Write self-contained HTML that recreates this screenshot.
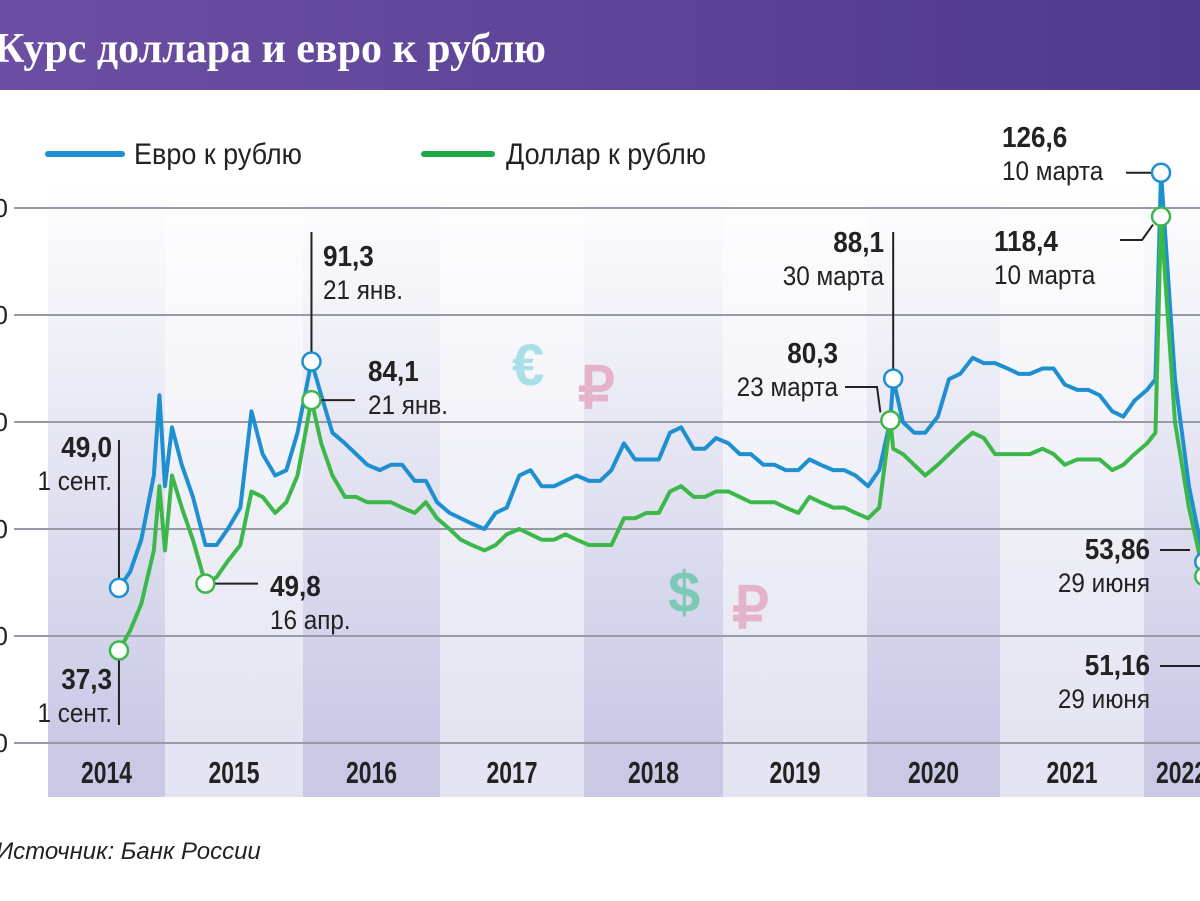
<!DOCTYPE html>
<html><head><meta charset="utf-8"><style>
body{margin:0;width:1200px;height:901px;overflow:hidden;background:#fff;font-family:"Liberation Sans",sans-serif}
svg{display:block}
</style></head><body>
<svg id="c" width="1200" height="901" viewBox="0 0 1200 901">
<defs>
<linearGradient id="hdr" x1="0" x2="1" y1="0" y2="0"><stop offset="0" stop-color="#6c4fa3"/><stop offset="1" stop-color="#4f3a8c"/></linearGradient>
<linearGradient id="bandD" x1="0" x2="0" y1="0" y2="1"><stop offset="0" stop-color="#fff"/><stop offset="1" stop-color="#c9c9e6"/></linearGradient>
<linearGradient id="bandL" x1="0" x2="0" y1="0" y2="1"><stop offset="0" stop-color="#fff"/><stop offset="1" stop-color="#e4e4f2"/></linearGradient>
</defs>
<rect x="0" y="0" width="1200" height="90" fill="url(#hdr)"/>
<text x="-6" y="62" font-family="Liberation Serif,serif" font-size="42" font-weight="bold" fill="#fff">Курс доллара и евро к рублю</text>
<g id="bands"></g>
<g id="grid"></g>
<g>
<line x1="48" y1="154" x2="122" y2="154" stroke="#1e8fd0" stroke-width="6" stroke-linecap="round"/>
<text x="134" y="164" font-size="30" fill="#222" transform="translate(134 0) scale(0.9 1) translate(-134 0)">Евро к рублю</text>
<line x1="424" y1="154" x2="492" y2="154" stroke="#1fa84a" stroke-width="6" stroke-linecap="round"/>
<text x="506" y="164" font-size="30" fill="#222" transform="translate(506 0) scale(0.9 1) translate(-506 0)">Доллар к рублю</text>
</g>
<g font-size="58" font-weight="bold">
<text x="512" y="385" fill="#a8e0ea">€</text>
<text x="578" y="408" fill="#e4b3c9">₽</text>
<text x="668" y="612" fill="#7cc9b5">$</text>
<text x="732" y="628" fill="#e4b3c9">₽</text>
</g>
<g id="series"></g>
<g id="ann" font-size="27" fill="#222"></g>
<text x="-4" y="859" font-size="24" font-style="italic" fill="#222">Источник: Банк России</text>
</svg>
<script>
const yearLabels=["2014","2015","2016","2017","2018","2019","2020","2021","2022"];
const yTicks=[120,100,80,60,40,20];
const eurDates=[2014.67,2014.75,2014.83,2014.92,2014.96,2015.0,2015.05,2015.12,2015.2,2015.29,2015.37,2015.45,2015.54,2015.62,2015.7,2015.79,2015.87,2015.95,2016.05,2016.12,2016.2,2016.29,2016.37,2016.45,2016.54,2016.62,2016.7,2016.79,2016.87,2016.95,2017.04,2017.12,2017.2,2017.29,2017.37,2017.45,2017.54,2017.62,2017.7,2017.79,2017.87,2017.95,2018.04,2018.12,2018.2,2018.29,2018.37,2018.45,2018.54,2018.62,2018.7,2018.79,2018.87,2018.95,2019.04,2019.12,2019.2,2019.29,2019.37,2019.45,2019.54,2019.62,2019.7,2019.79,2019.87,2019.95,2020.04,2020.12,2020.2,2020.22,2020.29,2020.37,2020.45,2020.54,2020.62,2020.7,2020.79,2020.87,2020.95,2021.04,2021.12,2021.2,2021.29,2021.37,2021.45,2021.54,2021.62,2021.7,2021.79,2021.87,2021.95,2022.04,2022.1,2022.14,2022.24,2022.34,2022.45];
const eurValues=[49,52,58,70,85,68,79,72,66,57,57,60,64,82,74,70,71,78,91.3,85,78,76,74,72,71,72,72,69,69,65,63,62,61,60,63,64,70,71,68,68,69,70,69,69,71,76,73,73,73,78,79,75,75,77,76,74,74,72,72,71,71,73,72,71,71,70,68,71,80.3,88.1,80,78,78,81,88,89,92,91,91,90,89,89,90,90,87,86,86,85,82,81,84,86,88,126.6,88,68,53.86];
const usdValues=[37.3,41,46,56,68,56,70,64,58,49.8,51,54,57,67,66,63,65,70,84.1,76,70,66,66,65,65,65,64,63,65,62,60,58,57,56,57,59,60,59,58,58,59,58,57,57,57,62,62,63,63,67,68,66,66,67,67,66,65,65,65,64,63,66,65,64,64,63,62,64,80.3,75,74,72,70,72,74,76,78,77,74,74,74,74,75,74,72,73,73,73,71,72,74,76,78,118.4,80,64,51.16];
const NS="http://www.w3.org/2000/svg";
function X(t){return 165+(t-2015)*139.5;}
function Y(v){return 208+(120-v)*5.35;}
function mk(tag,attrs,parent){const e=document.createElementNS(NS,tag);for(const k in attrs)e.setAttribute(k,attrs[k]);parent.appendChild(e);return e;}
const bands=document.getElementById('bands');
const bx=[48,165,303,440,584,723,867,1000,1144,1200];
yearLabels.forEach((y,i)=>{
  const dark=i%2===0;
  const r=mk('rect',{x:bx[i],y:180,width:bx[i+1]-bx[i],height:562,fill:dark?'url(#bandD)':'url(#bandL)'},bands);
  
  
  const r2=mk('rect',{x:bx[i],y:742,width:bx[i+1]-bx[i],height:55,fill:dark?'#c9c9e6':'#e4e4f2'},bands);
  
  
  const cx=i===8?1156:(bx[i]+bx[i+1])/2;
  const t=mk('text',{x:cx,y:783,'font-size':31,'font-weight':'bold',fill:'#222','text-anchor':i===8?'start':'middle',transform:`translate(${cx} 0) scale(0.74 1) translate(${-cx} 0)`},bands);
  t.textContent=y;
  
  
});
const grid=document.getElementById('grid');
yTicks.forEach(v=>{
  const l=mk('line',{x1:14,x2:1200,y1:Y(v),y2:Y(v),stroke:'#9a9aa6','stroke-width':2},grid);
  
  
  const t=mk('text',{x:8,y:Y(v)+9,'font-size':26,fill:'#222','text-anchor':'end'},grid);
  t.textContent=v;
  
  
});
const ser=document.getElementById('series');
function line(vals,color,name){
  const p=mk('polyline',{points:vals.map((v,i)=>X(eurDates[i])+','+Y(v)).join(' '),fill:'none',stroke:color,'stroke-width':4,'stroke-linejoin':'round'},ser);
  
  
}
line(eurValues,'#1e8fd0','euro-line');
line(usdValues,'#3cb84a','dollar-line');
const ann=document.getElementById('ann');
function marker(i,vals,color,name){
  const c=mk('circle',{cx:X(eurDates[i]),cy:Y(vals[i]),r:9,fill:'#fff',stroke:color,'stroke-width':2.5},ann);
  
  
  return [X(eurDates[i]),Y(vals[i])];
}
function label(x,y,a,b,anchor,name){
  const sx=`translate(${x} 0) scale(0.9 1) translate(${-x} 0)`;
  const t1=mk('text',{x:x,y:y,'font-weight':'bold','font-size':29,'text-anchor':anchor,transform:sx},ann);t1.textContent=a;
  
  
  const t2=mk('text',{x:x,y:y+33,'text-anchor':anchor,transform:sx},ann);t2.textContent=b;
  
  
}
function lead(pts,name){
  const p=mk('polyline',{points:pts.join(' '),fill:'none',stroke:'#222','stroke-width':2},ann);
  
  
}
function imax(a,lo,hi){let b=lo;for(let i=lo;i<=hi;i++)if(a[i]>a[b])b=i;return b;}
function imin(a,lo,hi){let b=lo;for(let i=lo;i<=hi;i++)if(a[i]<a[b])b=i;return b;}
let p;
const last=eurValues.length-1;
const n=eurValues.length;
const iE16=imax(eurValues,10,30), iU16=imax(usdValues,10,30), iU15=imin(usdValues,5,15);
const iE20=imax(eurValues,64,71), iU20=imax(usdValues,64,71);
const iE22=imax(eurValues,85,n-1), iU22=imax(usdValues,85,n-1);
p=marker(0,eurValues,'#1e8fd0','marker-euro-2014');lead([p[0],p[1]-10,p[0],440],'leader-euro-2014');label(112,457,'49,0','1 сент.','end','annot-euro-2014');
p=marker(0,usdValues,'#3cb84a','marker-usd-2014');lead([p[0],p[1]+10,p[0],725],'leader-usd-2014');label(112,689,'37,3','1 сент.','end','annot-usd-2014');
p=marker(iU15,usdValues,'#3cb84a','marker-usd-2015');lead([p[0]+10,p[1],258,p[1]],'leader-usd-2015');label(270,596,'49,8','16 апр.','start','annot-usd-2015');
p=marker(iE16,eurValues,'#1e8fd0','marker-euro-2016');lead([p[0],p[1]-10,p[0],232],'leader-euro-2016');label(323,266,'91,3','21 янв.','start','annot-euro-2016');
p=marker(iU16,usdValues,'#3cb84a','marker-usd-2016');lead([p[0]+10,p[1],355,p[1]],'leader-usd-2016');label(368,381,'84,1','21 янв.','start','annot-usd-2016');
p=marker(iE20,eurValues,'#1e8fd0','marker-euro-2020');lead([p[0],p[1]-10,p[0],232],'leader-euro-2020');label(884,252,'88,1','30 марта','end','annot-euro-2020');
p=marker(iU20,usdValues,'#3cb84a','marker-usd-2020');lead([p[0]-10,p[1]-8,877,387,845,387],'leader-usd-2020');label(838,363,'80,3','23 марта','end','annot-usd-2020');
p=marker(iE22,eurValues,'#1e8fd0','marker-euro-2022');lead([p[0]-10,p[1],1126,p[1]],'leader-euro-2022');label(1002,147,'126,6','10 марта','start','annot-euro-2022');
p=marker(iU22,usdValues,'#3cb84a','marker-usd-2022');lead([p[0]-8,p[1]+8,1142,240,1120,240],'leader-usd-2022');label(994,251,'118,4','10 марта','start','annot-usd-2022');
p=marker(last,eurValues,'#1e8fd0','marker-euro-june');lead([1160,550,1190,550],'leader-euro-june');label(1150,559,'53,86','29 июня','end','annot-euro-june');
p=marker(last,usdValues,'#3cb84a','marker-usd-june');lead([1160,666,1200,666],'leader-usd-june');label(1150,675,'51,16','29 июня','end','annot-usd-june');
</script>
</body></html>
